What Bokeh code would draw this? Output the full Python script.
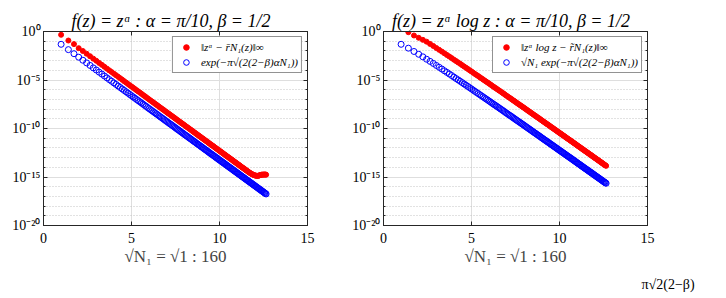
import numpy as np
from bokeh.plotting import figure
from bokeh.layouts import row
from bokeh.models import (Range1d, FixedTicker, LinearAxis, LogAxis,
                          CustomJSTickFormatter, Legend, LegendItem, Title)
from bokeh.embed import file_html
from bokeh.resources import INLINE

# Number of poles N1 = 1 : 160 (plotted against sqrt(N1))
N1 = list(range(1, 161))

# f(z) = z^alpha : log10 of the sup-norm error of the rational approximant
err_pow_log10 = [
    -0.34, -0.93, -1.30, -1.72, -2.01, -2.29, -2.55, -2.80, -3.02, -3.24,
    -3.44, -3.64, -3.83, -4.01, -4.18, -4.35, -4.51, -4.67, -4.82, -4.97,
    -5.12, -5.26, -5.40, -5.54, -5.67, -5.80, -5.93, -6.06, -6.18, -6.30,
    -6.42, -6.54, -6.66, -6.77, -6.89, -7.00, -7.11, -7.22, -7.32, -7.43,
    -7.53, -7.63, -7.74, -7.84, -7.94, -8.03, -8.13, -8.23, -8.32, -8.42,
    -8.51, -8.60, -8.69, -8.78, -8.87, -8.96, -9.05, -9.14, -9.22, -9.31,
    -9.40, -9.48, -9.56, -9.65, -9.73, -9.81, -9.89, -9.97, -10.05, -10.13,
    -10.21, -10.29, -10.37, -10.44, -10.52, -10.60, -10.67, -10.75, -10.82, -10.90,
    -10.97, -11.04, -11.12, -11.19, -11.26, -11.33, -11.40, -11.48, -11.55, -11.62,
    -11.69, -11.75, -11.82, -11.89, -11.96, -12.03, -12.10, -12.16, -12.23, -12.30,
    -12.36, -12.43, -12.49, -12.56, -12.62, -12.69, -12.75, -12.82, -12.88, -12.94,
    -13.01, -13.07, -13.13, -13.19, -13.25, -13.32, -13.38, -13.44, -13.50, -13.56,
    -13.62, -13.68, -13.74, -13.80, -13.86, -13.92, -13.98, -14.04, -14.09, -14.15,
    -14.21, -14.27, -14.33, -14.38, -14.44, -14.50, -14.55, -14.60, -14.65, -14.69,
    -14.73, -14.77, -14.80, -14.83, -14.85, -14.87, -14.88, -14.88, -14.87, -14.85,
    -14.82, -14.79, -14.77, -14.76, -14.75, -14.76, -14.75, -14.74, -14.75, -14.76,
]

# f(z) = z^alpha : log10 of exp(-pi*sqrt(2(2-beta)*alpha*N1))
bound_pow_log10 = [
    -1.32, -1.87, -2.29, -2.65, -2.96, -3.24, -3.50, -3.75, -3.97, -4.19,
    -4.39, -4.59, -4.78, -4.96, -5.13, -5.30, -5.46, -5.62, -5.77, -5.92,
    -6.07, -6.21, -6.35, -6.49, -6.62, -6.75, -6.88, -7.01, -7.13, -7.25,
    -7.37, -7.49, -7.61, -7.72, -7.84, -7.95, -8.06, -8.17, -8.27, -8.38,
    -8.48, -8.58, -8.69, -8.79, -8.89, -8.98, -9.08, -9.18, -9.27, -9.37,
    -9.46, -9.55, -9.64, -9.73, -9.82, -9.91, -10.00, -10.09, -10.17, -10.26,
    -10.35, -10.43, -10.51, -10.60, -10.68, -10.76, -10.84, -10.92, -11.00, -11.08,
    -11.16, -11.24, -11.32, -11.39, -11.47, -11.55, -11.62, -11.70, -11.77, -11.85,
    -11.92, -11.99, -12.07, -12.14, -12.21, -12.28, -12.35, -12.43, -12.50, -12.57,
    -12.64, -12.70, -12.77, -12.84, -12.91, -12.98, -13.05, -13.11, -13.18, -13.25,
    -13.31, -13.38, -13.44, -13.51, -13.57, -13.64, -13.70, -13.77, -13.83, -13.89,
    -13.96, -14.02, -14.08, -14.14, -14.20, -14.27, -14.33, -14.39, -14.45, -14.51,
    -14.57, -14.63, -14.69, -14.75, -14.81, -14.87, -14.93, -14.99, -15.04, -15.10,
    -15.16, -15.22, -15.28, -15.33, -15.39, -15.45, -15.50, -15.56, -15.62, -15.67,
    -15.73, -15.78, -15.84, -15.89, -15.95, -16.00, -16.06, -16.11, -16.17, -16.22,
    -16.28, -16.33, -16.38, -16.44, -16.49, -16.54, -16.60, -16.65, -16.70, -16.75,
]

# f(z) = z^alpha log z : log10 of the sup-norm error
err_powlog_log10 = [
    0.55, -0.07, -0.41, -0.65, -0.86, -1.05, -1.28, -1.49, -1.70, -1.89,
    -2.07, -2.25, -2.42, -2.58, -2.74, -2.90, -3.05, -3.19, -3.33, -3.47,
    -3.61, -3.74, -3.87, -4.00, -4.12, -4.25, -4.37, -4.49, -4.60, -4.72,
    -4.83, -4.94, -5.05, -5.16, -5.26, -5.37, -5.47, -5.58, -5.68, -5.78,
    -5.87, -5.97, -6.07, -6.16, -6.26, -6.35, -6.44, -6.54, -6.63, -6.72,
    -6.81, -6.89, -6.98, -7.07, -7.15, -7.24, -7.32, -7.41, -7.49, -7.57,
    -7.65, -7.73, -7.81, -7.89, -7.97, -8.05, -8.13, -8.21, -8.28, -8.36,
    -8.44, -8.51, -8.59, -8.66, -8.73, -8.81, -8.88, -8.95, -9.02, -9.10,
    -9.17, -9.24, -9.31, -9.38, -9.45, -9.52, -9.58, -9.65, -9.72, -9.79,
    -9.86, -9.92, -9.99, -10.06, -10.12, -10.19, -10.25, -10.32, -10.38, -10.45,
    -10.51, -10.57, -10.64, -10.70, -10.76, -10.82, -10.89, -10.95, -11.01, -11.07,
    -11.13, -11.19, -11.25, -11.31, -11.37, -11.43, -11.49, -11.55, -11.61, -11.67,
    -11.73, -11.79, -11.85, -11.90, -11.96, -12.02, -12.08, -12.13, -12.19, -12.25,
    -12.30, -12.36, -12.41, -12.47, -12.52, -12.58, -12.64, -12.69, -12.74, -12.80,
    -12.85, -12.91, -12.96, -13.02, -13.07, -13.12, -13.18, -13.23, -13.28, -13.33,
    -13.39, -13.44, -13.49, -13.54, -13.60, -13.65, -13.70, -13.75, -13.80, -13.85,
]

# f(z) = z^alpha log z : log10 of sqrt(N1)*exp(-pi*sqrt(2(2-beta)*alpha*N1))
bound_powlog_log10 = [
    -1.32, -1.72, -2.06, -2.35, -2.61, -2.86, -3.08, -3.29, -3.50, -3.69,
    -3.87, -4.05, -4.22, -4.38, -4.54, -4.70, -4.85, -4.99, -5.13, -5.27,
    -5.41, -5.54, -5.67, -5.80, -5.92, -6.05, -6.17, -6.29, -6.40, -6.52,
    -6.63, -6.74, -6.85, -6.96, -7.06, -7.17, -7.27, -7.38, -7.48, -7.58,
    -7.67, -7.77, -7.87, -7.96, -8.06, -8.15, -8.24, -8.34, -8.43, -8.52,
    -8.61, -8.69, -8.78, -8.87, -8.95, -9.04, -9.12, -9.21, -9.29, -9.37,
    -9.45, -9.53, -9.61, -9.69, -9.77, -9.85, -9.93, -10.01, -10.08, -10.16,
    -10.24, -10.31, -10.39, -10.46, -10.53, -10.61, -10.68, -10.75, -10.82, -10.90,
    -10.97, -11.04, -11.11, -11.18, -11.25, -11.32, -11.38, -11.45, -11.52, -11.59,
    -11.66, -11.72, -11.79, -11.86, -11.92, -11.99, -12.05, -12.12, -12.18, -12.25,
    -12.31, -12.37, -12.44, -12.50, -12.56, -12.62, -12.69, -12.75, -12.81, -12.87,
    -12.93, -12.99, -13.05, -13.11, -13.17, -13.23, -13.29, -13.35, -13.41, -13.47,
    -13.53, -13.59, -13.65, -13.70, -13.76, -13.82, -13.88, -13.93, -13.99, -14.05,
    -14.10, -14.16, -14.21, -14.27, -14.32, -14.38, -14.44, -14.49, -14.54, -14.60,
    -14.65, -14.71, -14.76, -14.82, -14.87, -14.92, -14.98, -15.03, -15.08, -15.13,
    -15.19, -15.24, -15.29, -15.34, -15.40, -15.45, -15.50, -15.55, -15.60, -15.65,
]

x_ticks = [0, 5, 10, 15]
y_major_exp = [-20, -15, -10, -5, 0]

SERIF = "Liberation Serif"
INK = "#262626"

SUP_FORMAT = """
const sup = {"0":"\u2070","1":"\u00b9","2":"\u00b2","3":"\u00b3","4":"\u2074",
             "5":"\u2075","6":"\u2076","7":"\u2077","8":"\u2078","9":"\u2079","-":"\u207b"};
const e = Math.round(Math.log10(tick));
return "10" + String(e).split("").map(c => sup[c]).join("");
"""


def panel(title, err_log10, bound_log10, err_label, bound_label, border_right):
    x = np.sqrt(np.array(N1, dtype=float))
    p = figure(frame_width=264, frame_height=194,
               min_border_left=43, min_border_right=border_right,
               min_border_top=31, min_border_bottom=73,
               x_range=Range1d(0, 15), y_range=Range1d(1e-20, 1),
               y_axis_type="log", output_backend="svg", toolbar_location=None)
    p.background_fill_color = "white"
    p.border_fill_color = "white"
    p.outline_line_color = INK

    p.title.text = title
    p.title.align = "center"
    p.title.text_font = SERIF
    p.title.text_font_size = "18px"
    p.title.text_font_style = "italic"
    p.title.text_color = "black"
    p.title.standoff = 2

    majors = [10.0 ** e for e in y_major_exp]
    minors = [10.0 ** e for e in range(-20, 1) if e not in y_major_exp]

    xa = p.xaxis[0]
    xa.ticker = FixedTicker(ticks=x_ticks)
    xa.axis_label = "\u221aN\u2081 = \u221a1 : 160"
    xa.axis_label_text_font = SERIF
    xa.axis_label_text_font_size = "17px"
    xa.axis_label_text_font_style = "normal"
    xa.axis_label_standoff = 1
    ya = p.yaxis[0]
    ya.ticker = FixedTicker(ticks=majors, minor_ticks=minors)
    ya.formatter = CustomJSTickFormatter(code=SUP_FORMAT)
    for ax in (xa, ya):
        ax.axis_line_color = INK
        ax.major_tick_line_color = INK
        ax.minor_tick_line_color = INK
        ax.major_tick_in = 4
        ax.major_tick_out = 0
        ax.minor_tick_in = 2
        ax.minor_tick_out = 0
        ax.major_label_text_font = SERIF
        ax.major_label_text_font_size = "14px"
        ax.major_label_text_color = "black"
    xa.major_label_standoff = 7
    ya.major_label_standoff = 3

    # tick marks on the top and right edges of the box
    top = LinearAxis(ticker=FixedTicker(ticks=x_ticks),
                     formatter=CustomJSTickFormatter(code='return "";'))
    right = LogAxis(ticker=FixedTicker(ticks=majors, minor_ticks=minors),
                    formatter=CustomJSTickFormatter(code='return "";'))
    for ax in (top, right):
        ax.axis_line_color = INK
        ax.major_tick_line_color = INK
        ax.minor_tick_line_color = INK
        ax.major_tick_in = 4
        ax.major_tick_out = 0
        ax.minor_tick_in = 2
        ax.minor_tick_out = 0
        ax.major_label_standoff = 0
    p.add_layout(top, "above")
    p.add_layout(right, "right")

    p.xgrid.ticker = FixedTicker(ticks=x_ticks)
    p.xgrid.grid_line_color = "#dedede"
    p.ygrid.ticker = FixedTicker(ticks=majors, minor_ticks=minors)
    p.ygrid.grid_line_color = "#dedede"
    p.ygrid.minor_grid_line_color = "#c4c4c4"
    p.ygrid.minor_grid_line_dash = "1 2"

    err = 10.0 ** np.array(err_log10)
    bound = 10.0 ** np.array(bound_log10)
    r_err = p.scatter(x, err, size=5, marker="circle",
                      fill_color="#ff0000", line_color="#ff0000")
    r_bound = p.scatter(x, bound, size=6, marker="circle", fill_color=None,
                        line_color="#0000ff", line_width=1)

    legend = Legend(items=[LegendItem(label=err_label, renderers=[r_err]),
                           LegendItem(label=bound_label, renderers=[r_bound])],
                    location="top_right")
    legend.border_line_color = INK
    legend.border_line_width = 1
    legend.background_fill_color = "white"
    legend.background_fill_alpha = 1
    legend.label_text_font = SERIF
    legend.label_text_font_size = "11px"
    legend.label_text_font_style = "italic"
    legend.label_text_color = "black"
    legend.padding = 3
    legend.spacing = 1
    legend.margin = 5
    legend.glyph_width = 20
    legend.glyph_height = 14
    legend.label_height = 14
    legend.label_standoff = 5
    p.add_layout(legend)
    return p


p1 = panel("f(z) = z\u1d45 :  \u03b1 = \u03c0/10,  \u03b2 = 1/2",
           err_pow_log10, bound_pow_log10,
           "\u2016z\u1d45 \u2212 r\u0304N\u2081(z)\u2016\u221e",
           "exp(\u2212\u03c0\u221a(2(2\u2212\u03b2)\u03b1N\u2081))", 33)
p2 = panel("f(z) = z\u1d45 log z :  \u03b1 = \u03c0/10,  \u03b2 = 1/2",
           err_powlog_log10, bound_powlog_log10,
           "\u2016z\u1d45 log z \u2212 r\u0303N\u2081(z)\u2016\u221e",
           "\u221aN\u2081 exp(\u2212\u03c0\u221a(2(2\u2212\u03b2)\u03b1N\u2081))", 79)

# start of the caption formula, running off the bottom edge
caption = Title(text="\u03c0\u221a2(2\u2212\u03b2)", align="left", offset=258,
                text_font=SERIF, text_font_size="14px",
                text_font_style="normal", text_color="black", standoff=13)
p2.add_layout(caption, "below")

layout = row(p1, p2)
open("out.html", "w").write(file_html(layout, INLINE))
